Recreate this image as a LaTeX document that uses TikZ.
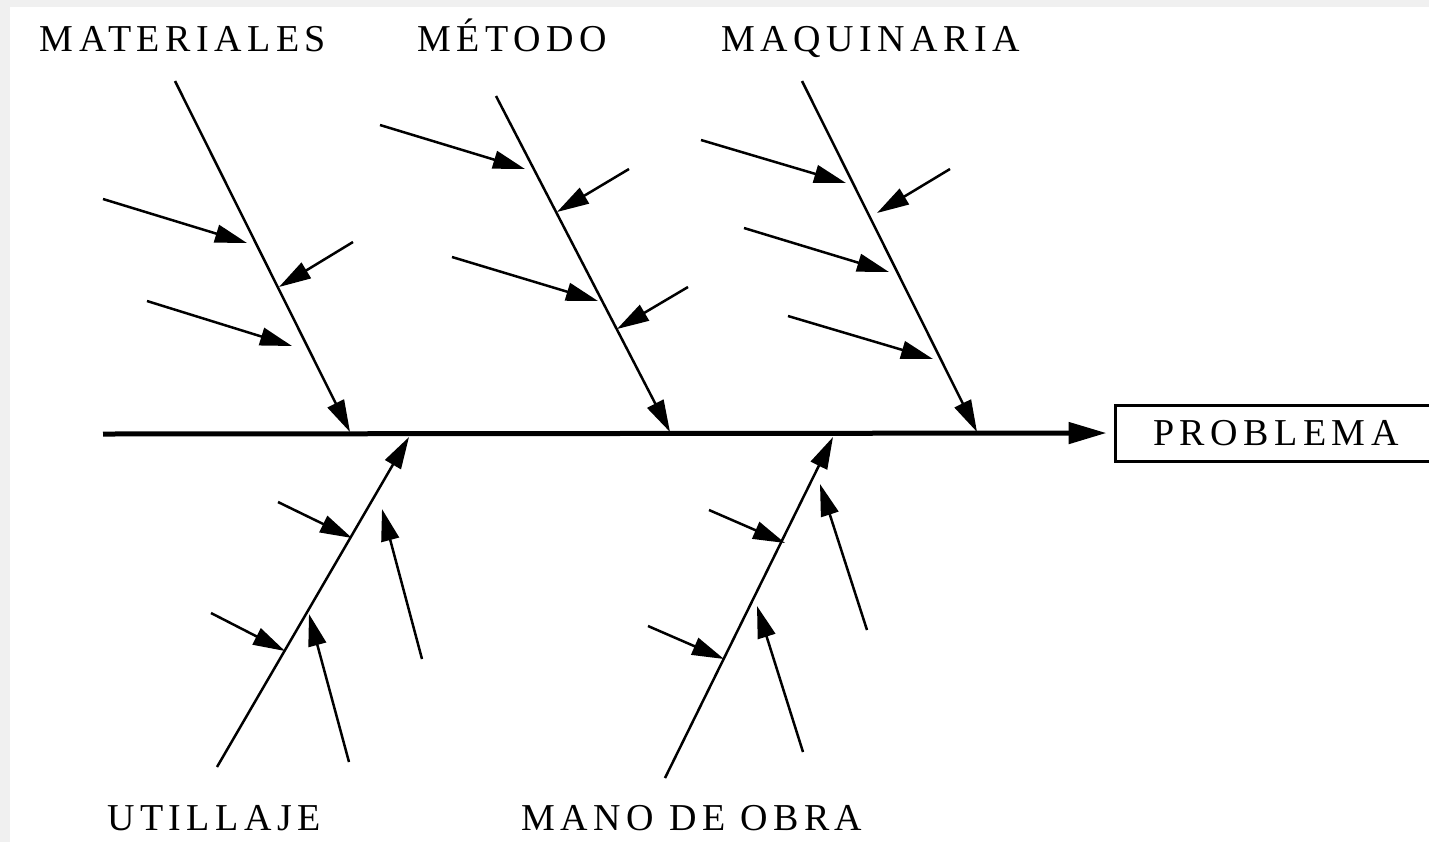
\documentclass[tikz,border=0pt]{standalone}
\usepackage{fontspec}
\newfontfamily\capsfont[LetterSpace=14.5]{Liberation Serif}
\usetikzlibrary{arrows.meta}
\tikzset{>={Triangle[length=16pt,width=9pt]}}
\tikzset{
  bone/.style={->, line width=1.25pt},
  cause/.style={font=\capsfont\fontsize{19}{23}\selectfont, inner sep=0pt}
}

\begin{document}
\begin{tikzpicture}[x=0.5pt,y=-0.5pt]
  % marco
  \useasboundingbox (0,0) rectangle (1429,842);
  \clip (0,0) rectangle (1429,842);
  \fill[black!6] (0,0) rectangle (1429,842);
  \fill[white] (10,7) rectangle (1429,842);

  % puntos de las espinas
  \coordinate (S) at (103,434);
  \coordinate (M0) at (175,81);
  \coordinate (M1) at (350,432);
  \coordinate (T0) at (496,96);
  \coordinate (T1) at (670,432);
  \coordinate (Q0) at (802,81);
  \coordinate (Q1) at (977,432);
  \coordinate (U0) at (217,767);
  \coordinate (U1) at (409,437);
  \coordinate (O0) at (665,778);
  \coordinate (O1) at (833,437);

  % puntos de las causas secundarias
  \coordinate (m1s) at (103,199);
  \coordinate (m1e) at (247,243);
  \coordinate (m2s) at (353,242);
  \coordinate (m2e) at (279,287);
  \coordinate (m3s) at (147,301);
  \coordinate (m3e) at (292,346);
  \coordinate (t1s) at (380,125);
  \coordinate (t1e) at (525,169);
  \coordinate (t2s) at (629,169);
  \coordinate (t2e) at (557,212);
  \coordinate (t3s) at (452,257);
  \coordinate (t3e) at (598,301);
  \coordinate (t4s) at (688,287);
  \coordinate (t4e) at (617,329);
  \coordinate (q1s) at (701,140);
  \coordinate (q1e) at (846,183);
  \coordinate (q2s) at (950,169);
  \coordinate (q2e) at (877,213);
  \coordinate (q3s) at (744,228);
  \coordinate (q3e) at (889,272);
  \coordinate (q4s) at (788,316);
  \coordinate (q4e) at (933,359);
  \coordinate (u1s) at (278,502);
  \coordinate (u1e) at (352,538);
  \coordinate (u2s) at (422,659);
  \coordinate (u2e) at (382,509);
  \coordinate (u3s) at (211,613);
  \coordinate (u3e) at (285,651);
  \coordinate (u4s) at (349,762);
  \coordinate (u4e) at (309,614);
  \coordinate (o1s) at (709,510);
  \coordinate (o1e) at (785,543);
  \coordinate (o2s) at (867,630);
  \coordinate (o2e) at (820,484);
  \coordinate (o3s) at (648,626);
  \coordinate (o3e) at (724,659);
  \coordinate (o4s) at (803,752);
  \coordinate (o4e) at (757,606);

  % efecto
  \node[cause, draw, line width=1.5pt, minimum width=161pt, minimum height=28pt] (problema) at (1276,433) {PROBLEMA};

  % espina central
  \draw[line width=2.5pt, -{Triangle[length=19pt,width=10.5pt]}, shorten >=3.5pt] (S) -- (problema.west);

  % espinas principales
  \draw[bone] (M0) -- (M1);
  \draw[bone] (T0) -- (T1);
  \draw[bone] (Q0) -- (Q1);
  \draw[bone] (U0) -- (U1);
  \draw[bone] (O0) -- (O1);

  % causas secundarias
  \draw[bone] (m1s) -- (m1e);
  \draw[bone] (m2s) -- (m2e);
  \draw[bone] (m3s) -- (m3e);
  \draw[bone] (t1s) -- (t1e);
  \draw[bone] (t2s) -- (t2e);
  \draw[bone] (t3s) -- (t3e);
  \draw[bone] (t4s) -- (t4e);
  \draw[bone] (q1s) -- (q1e);
  \draw[bone] (q2s) -- (q2e);
  \draw[bone] (q3s) -- (q3e);
  \draw[bone] (q4s) -- (q4e);
  \draw[bone] (u1s) -- (u1e);
  \draw[bone] (u2s) -- (u2e);
  \draw[bone] (u3s) -- (u3e);
  \draw[bone] (u4s) -- (u4e);
  \draw[bone] (o1s) -- (o1e);
  \draw[bone] (o2s) -- (o2e);
  \draw[bone] (o3s) -- (o3e);
  \draw[bone] (o4s) -- (o4e);

  % categorias
  \node[cause, anchor=base] (materiales) at (183,51) {MATERIALES};
  \node[cause, anchor=base] (metodo) at (512,51) {MÉTODO};
  \node[cause, anchor=base] (maquinaria) at (871,51) {MAQUINARIA};
  \node[cause, anchor=base] (utillaje) at (214,830) {UTILLAJE};
  \node[cause, anchor=base] (manodeobra) at (692,830) {MANO DE OBRA};
\end{tikzpicture}
\end{document}
